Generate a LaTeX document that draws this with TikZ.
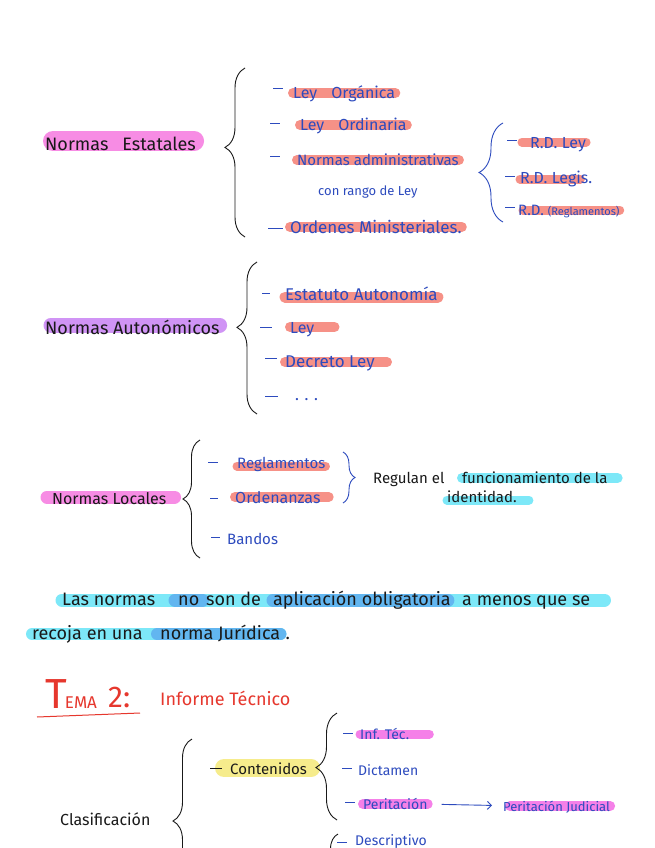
\documentclass[tikz,border=0pt]{standalone}
\usepackage{fontspec}
\setmainfont{Fira Sans}
\usetikzlibrary{decorations.pathreplacing,backgrounds,arrows.meta}
\definecolor{inkblue}{RGB}{45,75,190}
\definecolor{inkblack}{RGB}{25,25,25}
\definecolor{inkred}{RGB}{230,55,45}
\definecolor{hlpink}{RGB}{247,140,228}
\definecolor{hlmagenta}{RGB}{245,128,232}
\definecolor{hlsalmon}{RGB}{246,145,135}
\definecolor{hllilac}{RGB}{208,148,245}
\definecolor{hlcyan}{RGB}{125,232,248}
\definecolor{hlblue}{RGB}{98,182,240}
\definecolor{hlyellow}{RGB}{246,236,140}
\newcommand\fsz[1]{\fontsize{#1}{#1}\selectfont}

\begin{document}
\begin{tikzpicture}[x=1pt, y=-1pt,
    blk/.style={anchor=base west, inner sep=0pt, text=inkblack},
    blu/.style={anchor=base west, inner sep=0pt, text=inkblue, font=\fsz{15}},
    hl/.style={line cap=round, line width=#1}, hl/.default=10pt,
    brc/.style={decorate, decoration={brace, amplitude=#1, aspect=0.5}, line width=0.9pt},
    bullet/.style={line width=1pt}]
  \useasboundingbox (0,0) rectangle (655,848);
  \clip (0,0) rectangle (655,848);

  \node[blk, font=\fsz{18}] (es) at (45,150) {Normas\hspace{14pt}Estatales};
  \draw[brc=20pt, inkblack, decoration={aspect=0.53}] (245,237) -- (245,68);
  \node[blu, font=\fsz{16}] (lo) at (293,99) {Ley\hspace{14pt}Orgánica};
  \node[blu, font=\fsz{16}] (ld) at (300,131) {Ley\hspace{14pt}Ordinaria};
  \node[blu] (na) at (297,165) {Normas administrativas};
  \node[blu, font=\fsz{13}] (cr) at (318,195) {con rango de Ley};
  \node[blu, font=\fsz{17}] (om) at (290,233) {Ordenes Ministeriales.};
  \draw[brc=24pt, inkblue] (503,222) -- (503,123);
  \node[blu, font=\fsz{16}] (rl) at (530,148) {R.D. Ley};
  \node[blu, font=\fsz{16}] (rg) at (520,183) {R.D. Legis.};
  \node[blu, font=\fsz{15}] (rr) at (518,215) {R.D. {\fsz{11}(Reglamentos)}};
  \draw[bullet, inkblue] (273,89) -- (283,89) (270,124) -- (280,124) (270,156) -- (280,156)
    (268,228) -- (283,228) (507,140) -- (517,140) (505,176) -- (515,176) (505,207) -- (515,207);

  \node[blk, font=\fsz{18}] (au) at (45,334) {Normas Autonómicos};
  \draw[brc=20pt, inkblack, decoration={aspect=0.57}] (257,414) -- (257,262);
  \node[blu, font=\fsz{17}] (ea) at (285,300) {Estatuto Autonomía};
  \node[blu, font=\fsz{16}] (ly) at (290,333) {Ley};
  \node[blu, font=\fsz{17}] (dl) at (285,367) {Decreto Ley};
  \node[blu, font=\fsz{16}] (ds) at (295,400) {. . .};
  \draw[bullet, inkblue] (262,293) -- (270,293) (260,327) -- (272,327) (265,358) -- (277,358)
    (265,396) -- (278,396);

  \node[blk, font=\fsz{16}] (lc) at (52,504) {Normas Locales};
  \draw[brc=17pt, inkblack] (200,558) -- (200,440);
  \node[blu] (rm) at (237,468) {Reglamentos};
  \node[blu, font=\fsz{16}] (od) at (235,503) {Ordenanzas};
  \node[blu] (bd) at (227,544) {Bandos};
  \draw[bullet, inkblue] (208,462) -- (218,462) (210,498) -- (218,498) (211,537) -- (220,537);
  \draw[brc=12pt, inkblue] (343,452) -- (343,503);
  \node[blk, font=\fsz{15}] (rf) at (373,483) {Regulan el};
  \node[blk, font=\fsz{15}] (fn) at (462,483) {funcionamiento de la};
  \node[blk, font=\fsz{15}] (id) at (447,502) {identidad.};

  \node[blk, font=\fsz{18}] (s1) at (62,605) {Las normas};
  \node[blk, font=\fsz{18}] (s2) at (178,605) {no};
  \node[blk, font=\fsz{18}] (s3) at (206,605) {son de};
  \node[blk, font=\fsz{18}] (s4) at (273,605) {aplicación obligatoria};
  \node[blk, font=\fsz{18}] (s5) at (462,605) {a menos que se};
  \node[blk, font=\fsz{18}] (r1) at (32,639) {recoja en una};
  \node[blk, font=\fsz{18}] (r2) at (160,639) {norma Jurídica};
  \node[blk, font=\fsz{18}] (r3) at ([xshift=5pt]r2.base east) {.};

  \node[blk, text=inkred] (tm) at (45,708) {{\fsz{42}T}\kern-2pt{\fsz{17}EMA}};
  \node[blk, text=inkred, font=\fsz{30}] (t2) at (108,707) {2:};
  \node[blk, text=inkred, font=\fsz{18}] (ifm) at (160,705) {Informe Técnico};
  \draw[inkred, line width=1pt] (37,717) -- (140,713);

  \node[blk, font=\fsz{16}] (cl) at (60,825) {Clasificación};
  \draw[brc=19pt, inkblack] (192,903) -- (192,739);
  \node[blk, font=\fsz{15}] (ct) at (230,774) {Contenidos};
  \draw[bullet, inkblack] (210,768) -- (222,768);
  \draw[brc=21pt, inkblack, decoration={aspect=0.49}] (337,820) -- (337,713);
  \node[blu, font=\fsz{14}] (it) at (360,739) {Inf. Téc.};
  \node[blu, font=\fsz{14}] (dc) at (358,775) {Dictamen};
  \node[blu, font=\fsz{14}] (pe) at (363,809) {Peritación};
  \node[blu, font=\fsz{13}] (pj) at (503,811) {Peritación Judicial};
  \draw[inkblue, line width=0.9pt, -{Straight Barb[length=4pt, width=8pt]},
    shorten <=14pt, shorten >=11pt] (pe) -- (pj);
  \draw[brc=15pt, inkblack] (338,940) -- (338,834);
  \node[blu, font=\fsz{14}] (de) at (355,845) {Descriptivo};
  \draw[bullet, inkblue] (343,733) -- (353,733) (342,768) -- (352,768) (345,802) -- (355,802)
    (337,842) -- (347,842);

  \begin{scope}[on background layer]
    \fill[white] (0,0) rectangle (655,848);
    \draw[hl=20pt, hlpink] ([shift={(8pt,9pt)}]es.base west) -- ([shift={(-2pt,9pt)}]es.base east);
    \draw[hl, hlsalmon] ([yshift=6pt]lo.base west) -- ([yshift=6pt]lo.base east);
    \draw[hl, hlsalmon] ([yshift=6pt]ld.base west) -- ([yshift=6pt]ld.base east);
    \draw[hl, hlsalmon] ([yshift=5pt]na.base west) -- ([yshift=5pt]na.base east);
    \draw[hl, hlsalmon] ([yshift=6pt]om.base west) -- ([yshift=6pt]om.base east);
    \draw[hl=9pt, hlsalmon] ([shift={(-8pt,6pt)}]rl.base west) -- ([yshift=6pt]rl.base east);
    \draw[hl=9pt, hlsalmon] ([yshift=4pt]rg.base west) -- ([shift={(-12pt,4pt)}]rg.base east);
    \draw[hl=9pt, hlsalmon] ([shift={(5pt,5pt)}]rr.base west) -- ([yshift=5pt]rr.base east);
    \draw[hl=15pt, hllilac] ([shift={(6pt,9pt)}]au.base west) -- ([yshift=9pt]au.base east);
    \draw[hl=11pt, hlsalmon] ([yshift=3pt]ea.base west) -- ([yshift=3pt]ea.base east);
    \draw[hl, hlsalmon] ([yshift=6pt]ly.base west) -- ([shift={(20pt,6pt)}]ly.base east);
    \draw[hl, hlsalmon] ([yshift=5pt]dl.base west) -- ([shift={(12pt,5pt)}]dl.base east);
    \draw[hl=13pt, hlpink] ([shift={(-5pt,7pt)}]lc.base west) -- ([shift={(8pt,7pt)}]lc.base east);
    \draw[hl=9pt, hlsalmon] ([yshift=2pt]rm.base west) -- ([yshift=2pt]rm.base east);
    \draw[hl, hlsalmon] ([yshift=6pt]od.base west) -- ([shift={(8pt,6pt)}]od.base east);
    \draw[hl, hlcyan] ([yshift=5pt]fn.base west) -- ([shift={(10pt,5pt)}]fn.base east);
    \draw[hl=9pt, hlcyan] ([yshift=2pt]id.base west) -- ([shift={(12pt,2pt)}]id.base east);
    \draw[hl=13pt, hlcyan] ([yshift=5pt]s1.base west) -- ([shift={(14pt,5pt)}]s5.base east);
    \draw[hl=13pt, hlblue] ([shift={(-3pt,5pt)}]s2.base west) -- ([shift={(3pt,5pt)}]s2.base east);
    \draw[hl=13pt, hlblue] ([yshift=5pt]s4.base west) -- ([shift={(-3pt,5pt)}]s4.base east);
    \draw[hl=12pt, hlcyan] ([yshift=5pt]r1.base west) -- ([yshift=5pt]r2.base east);
    \draw[hl=12pt, hlblue] ([shift={(-3pt,5pt)}]r2.base west) -- ([yshift=5pt]r2.base east);
    \draw[hl=18pt, hlyellow] ([shift={(-6pt,6pt)}]ct.base west) -- ([shift={(4pt,6pt)}]ct.base east);
    \draw[hl=9pt, hlmagenta] ([yshift=5pt]it.base west) -- ([shift={(20pt,5pt)}]it.base east);
    \draw[hl, hlmagenta] ([yshift=5pt]pe.base west) -- ([yshift=5pt]pe.base east);
    \draw[hl, hlmagenta] ([shift={(7pt,5pt)}]pj.base west) -- ([yshift=5pt]pj.base east);
  \end{scope}
\end{tikzpicture}
\end{document}
